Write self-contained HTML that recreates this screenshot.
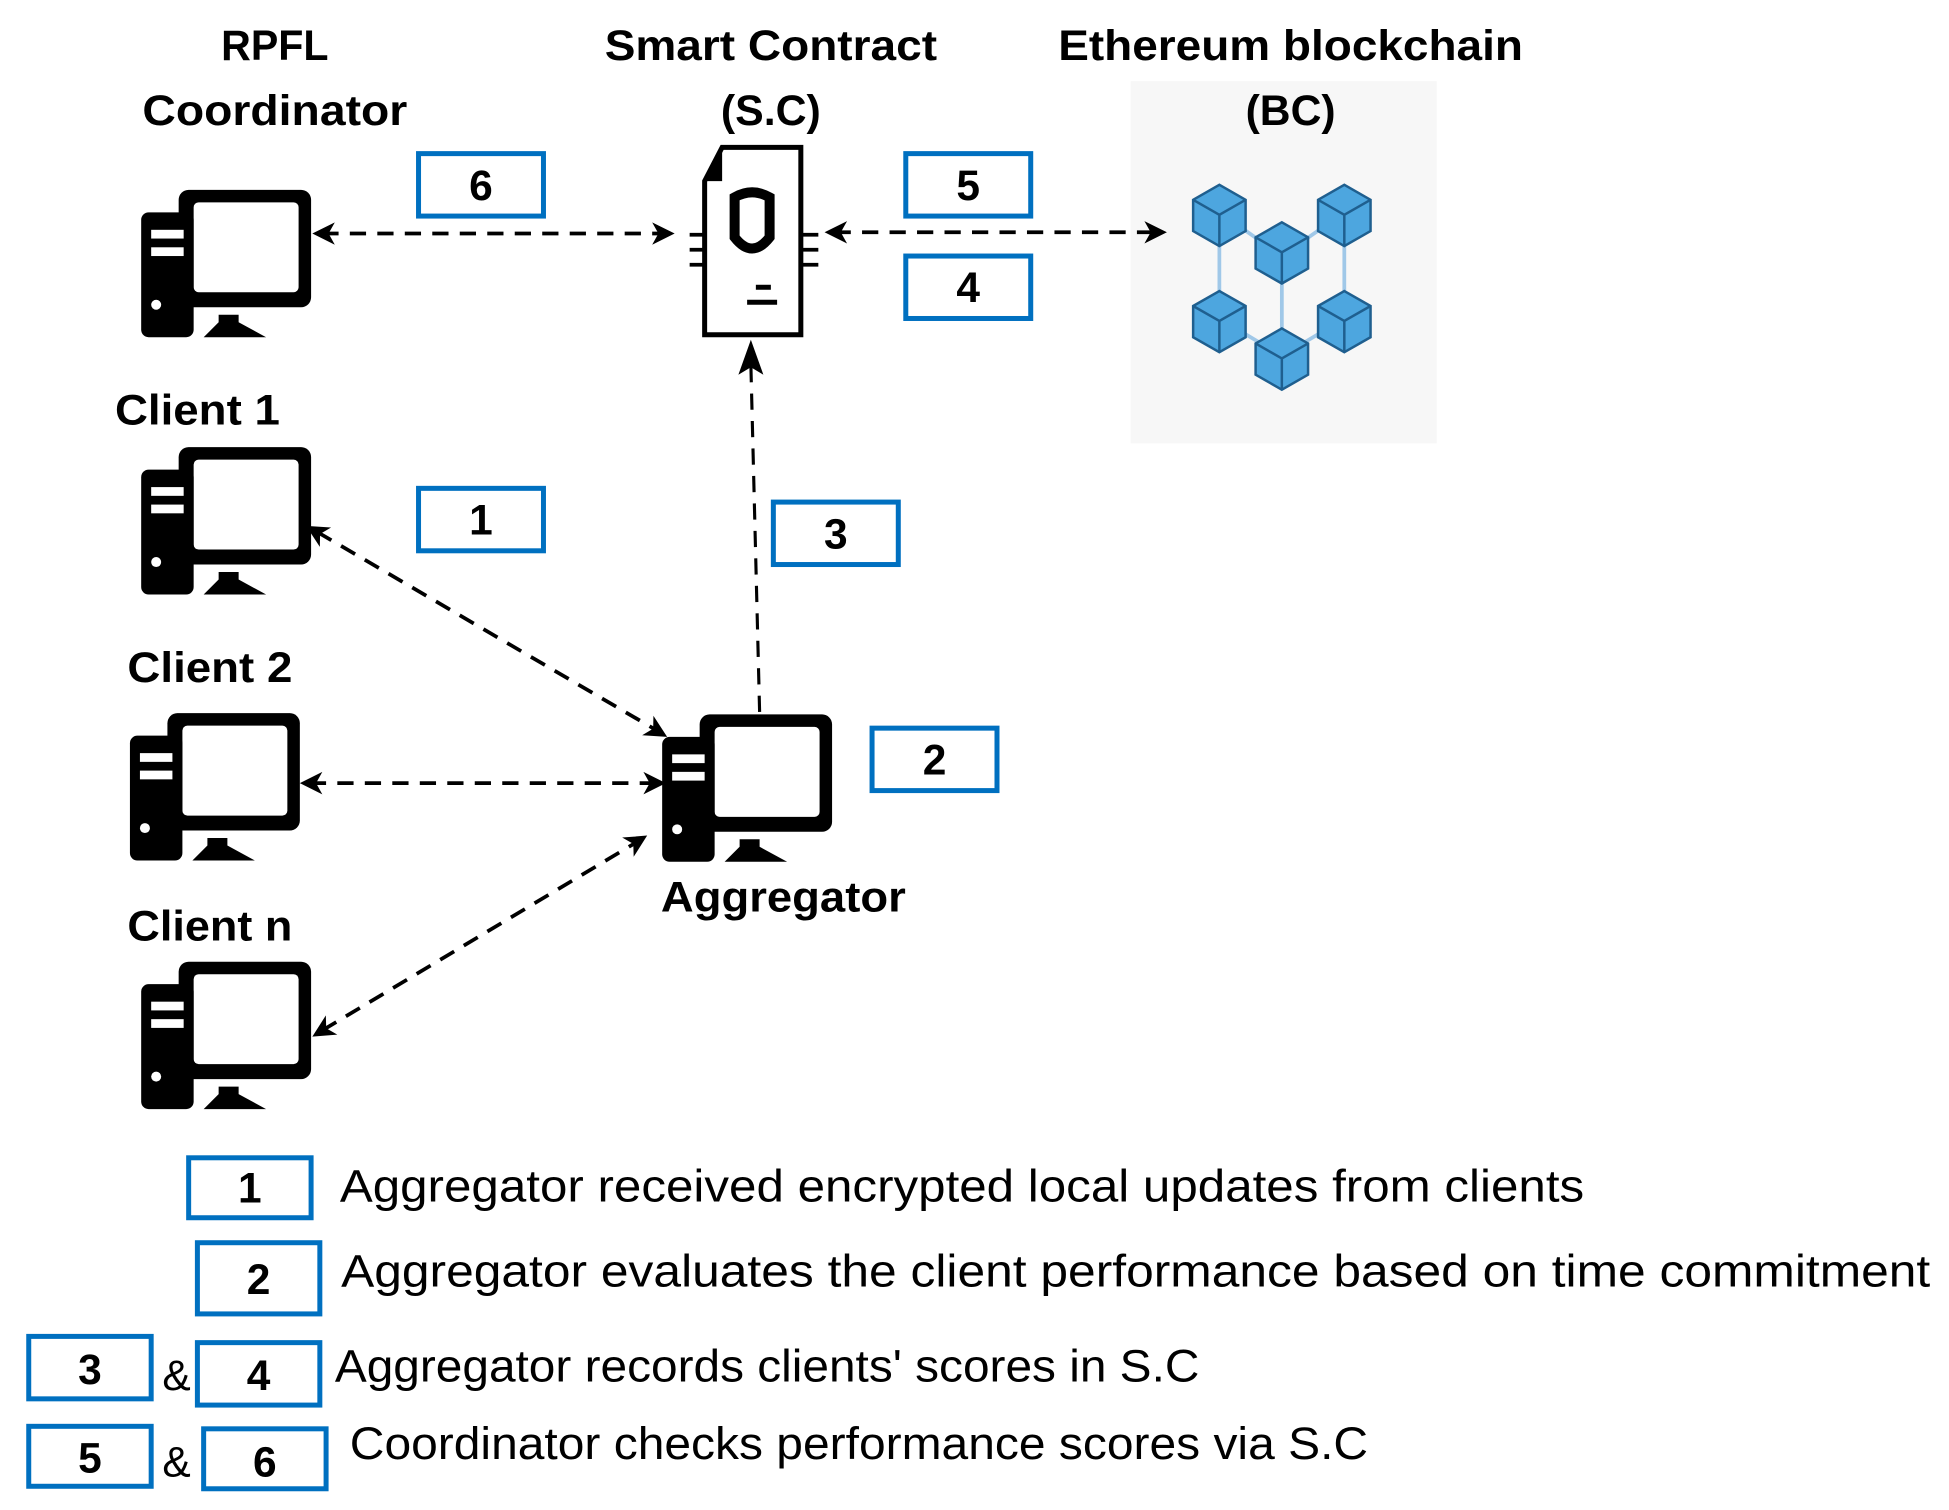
<!DOCTYPE html>
<html><head><meta charset="utf-8"><style>html,body{margin:0;padding:0;background:#fff}svg{display:block}</style></head>
<body>
<svg width="1949" height="1510" viewBox="0 0 1560 1209" preserveAspectRatio="none" xmlns="http://www.w3.org/2000/svg" font-family="Liberation Sans, sans-serif">
<defs>
<g id="pc">
<rect x="30" y="0" width="106" height="94" rx="8" fill="#000"/>
<rect x="42" y="10" width="84" height="72" rx="4" fill="#fff"/>
<rect x="0" y="18" width="42" height="100" rx="6" fill="#000"/>
<rect x="8" y="32" width="26" height="7" fill="#fff"/>
<rect x="8" y="46" width="26" height="7" fill="#fff"/>
<circle cx="12" cy="92" r="4" fill="#fff"/>
<path d="M62,100 L78,100 L78,106 L100,118 L50,118 L62,106 Z" fill="#000"/>
</g>
</defs>

<rect x="905" y="65" width="245" height="290" fill="#f7f7f7"/>

<g font-weight="bold" font-size="34" text-anchor="middle">
<text x="220" y="48" textLength="86" lengthAdjust="spacingAndGlyphs">RPFL</text>
<text x="220" y="100" textLength="212" lengthAdjust="spacingAndGlyphs">Coordinator</text>
<text x="617" y="48" textLength="266" lengthAdjust="spacingAndGlyphs">Smart Contract</text>
<text x="617" y="100" textLength="80" lengthAdjust="spacingAndGlyphs">(S.C)</text>
<text x="1033" y="48" textLength="372" lengthAdjust="spacingAndGlyphs">Ethereum blockchain</text>
<text x="1033" y="100" textLength="72" lengthAdjust="spacingAndGlyphs">(BC)</text>
<text x="158" y="340" textLength="132" lengthAdjust="spacingAndGlyphs">Client 1</text>
<text x="168" y="546" textLength="132" lengthAdjust="spacingAndGlyphs">Client 2</text>
<text x="168" y="753" textLength="132" lengthAdjust="spacingAndGlyphs">Client n</text>
<text x="627" y="730" textLength="196" lengthAdjust="spacingAndGlyphs">Aggregator</text>
</g>

<use href="#pc" x="113" y="152"/>
<use href="#pc" x="113" y="358"/>
<use href="#pc" x="104" y="571"/>
<use href="#pc" x="113" y="770"/>
<use href="#pc" x="530" y="572"/>

<!-- smart contract doc -->
<g>
<path d="M578,118 L641,118 L641,268 L564,268 L564,145 Z" fill="#fff" stroke="#000" stroke-width="4"/>
<path d="M578,118 L564,145 L578,145 Z" fill="#000"/>
<path d="M588,158 Q602,150 616,158 L616,190 Q602,208 588,190 Z" fill="none" stroke="#000" stroke-width="8"/>
<rect x="605" y="228" width="12" height="4" fill="#000"/>
<rect x="598" y="240" width="24" height="4" fill="#000"/>
<g stroke="#000" stroke-width="3" fill="none">
<path d="M564,188 L552,188 M564,200 L552,200 M564,212 L552,212"/>
<path d="M641,188 L655,188 M641,200 L655,200 M641,212 L655,212"/>
</g>
</g>

<!-- blockchain -->
<g stroke="#a0c8e8" stroke-width="3" fill="none">
<path d="M976,170 L1026,205 L1076,170 M976,255 L1026,285 L1076,255 M976,170 L976,255 M1076,170 L1076,255 M1026,205 L1026,285"/>
</g>
<g id="cube" fill="#4da6df" stroke="#1f5f8f" stroke-width="2">
<path d="M955,160 L976,148 L997,160 L997,185 L976,197 L955,185 Z"/>
<path d="M955,160 L976,172 L997,160 M976,172 L976,197" fill="none"/>
</g>
<use href="#cube" x="100" y="0"/>
<use href="#cube" x="50" y="30"/>
<use href="#cube" x="0" y="85"/>
<use href="#cube" x="100" y="85"/>
<use href="#cube" x="50" y="115"/>

<!-- arrows -->
<g stroke="#000" stroke-width="3" stroke-dasharray="13,9" fill="none">
<line x1="258" y1="187" x2="530" y2="187"/>
<line x1="668" y1="186" x2="924" y2="186"/>
<line x1="254" y1="426" x2="526" y2="585"/>
<line x1="248" y1="627" x2="525" y2="627"/>
<line x1="258" y1="825" x2="510" y2="674"/>
<line x1="608" y1="570" x2="601" y2="292" stroke-width="2.5"/>
</g>
<g fill="#000">
<polygon points="250,187 268,178 263,187 268,196"/>
<polygon points="540,187 522,178 527,187 522,196"/>
<polygon points="660,186 678,177 673,186 678,195"/>
<polygon points="934,186 916,177 921,186 916,195"/>
<polygon points="240,627 258,618 253,627 258,636"/>
<polygon points="533,627 515,618 520,627 515,636"/>
<polygon points="534,590 514,588.7 522.8,583.4 523,573.1"/>
<polygon points="245,421 256,437.9 256.2,427.6 265,422.3"/>
<polygon points="518,669 507.2,686 506.9,675.7 498,670.6"/>
<polygon points="250,830 270,828.4 261.1,823.3 260.8,813"/>
<polygon points="601,272 591,300 601,294 611,300"/>
</g>

<!-- boxes -->
<g fill="#fff" stroke="#0070c0" stroke-width="4">
<rect x="335" y="123" width="100" height="50"/>
<rect x="725" y="123" width="100" height="50"/>
<rect x="725" y="205" width="100" height="50"/>
<rect x="335" y="391" width="100" height="50"/>
<rect x="619" y="402" width="100" height="50"/>
<rect x="698" y="583" width="100" height="50"/>
<rect x="151" y="927" width="98" height="48"/>
<rect x="158" y="995" width="98" height="57"/>
<rect x="23" y="1070" width="98" height="50"/>
<rect x="158" y="1075" width="98" height="50"/>
<rect x="23" y="1142" width="98" height="48"/>
<rect x="163" y="1144" width="98" height="48"/>
</g>
<g font-weight="bold" font-size="34" text-anchor="middle">
<text x="385" y="160">6</text>
<text x="775" y="160">5</text>
<text x="775" y="242">4</text>
<text x="385" y="428">1</text>
<text x="669" y="439">3</text>
<text x="748" y="620">2</text>
<text x="200" y="963">1</text>
<text x="207" y="1036">2</text>
<text x="72" y="1108">3</text>
<text x="207" y="1113">4</text>
<text x="72" y="1179">5</text>
<text x="212" y="1182">6</text>
</g>
<g font-size="36">
<text x="130" y="1113" font-size="34">&amp;</text>
<text x="130" y="1182" font-size="34">&amp;</text>
<text x="272" y="962" textLength="996" lengthAdjust="spacingAndGlyphs">Aggregator received encrypted local updates from clients</text>
<text x="273" y="1030" textLength="1272" lengthAdjust="spacingAndGlyphs">Aggregator evaluates the client performance based on time commitment</text>
<text x="268" y="1106" textLength="692" lengthAdjust="spacingAndGlyphs">Aggregator records clients' scores in S.C</text>
<text x="280" y="1168" textLength="815" lengthAdjust="spacingAndGlyphs">Coordinator checks performance scores via S.C</text>
</g>
</svg>
</body></html>
